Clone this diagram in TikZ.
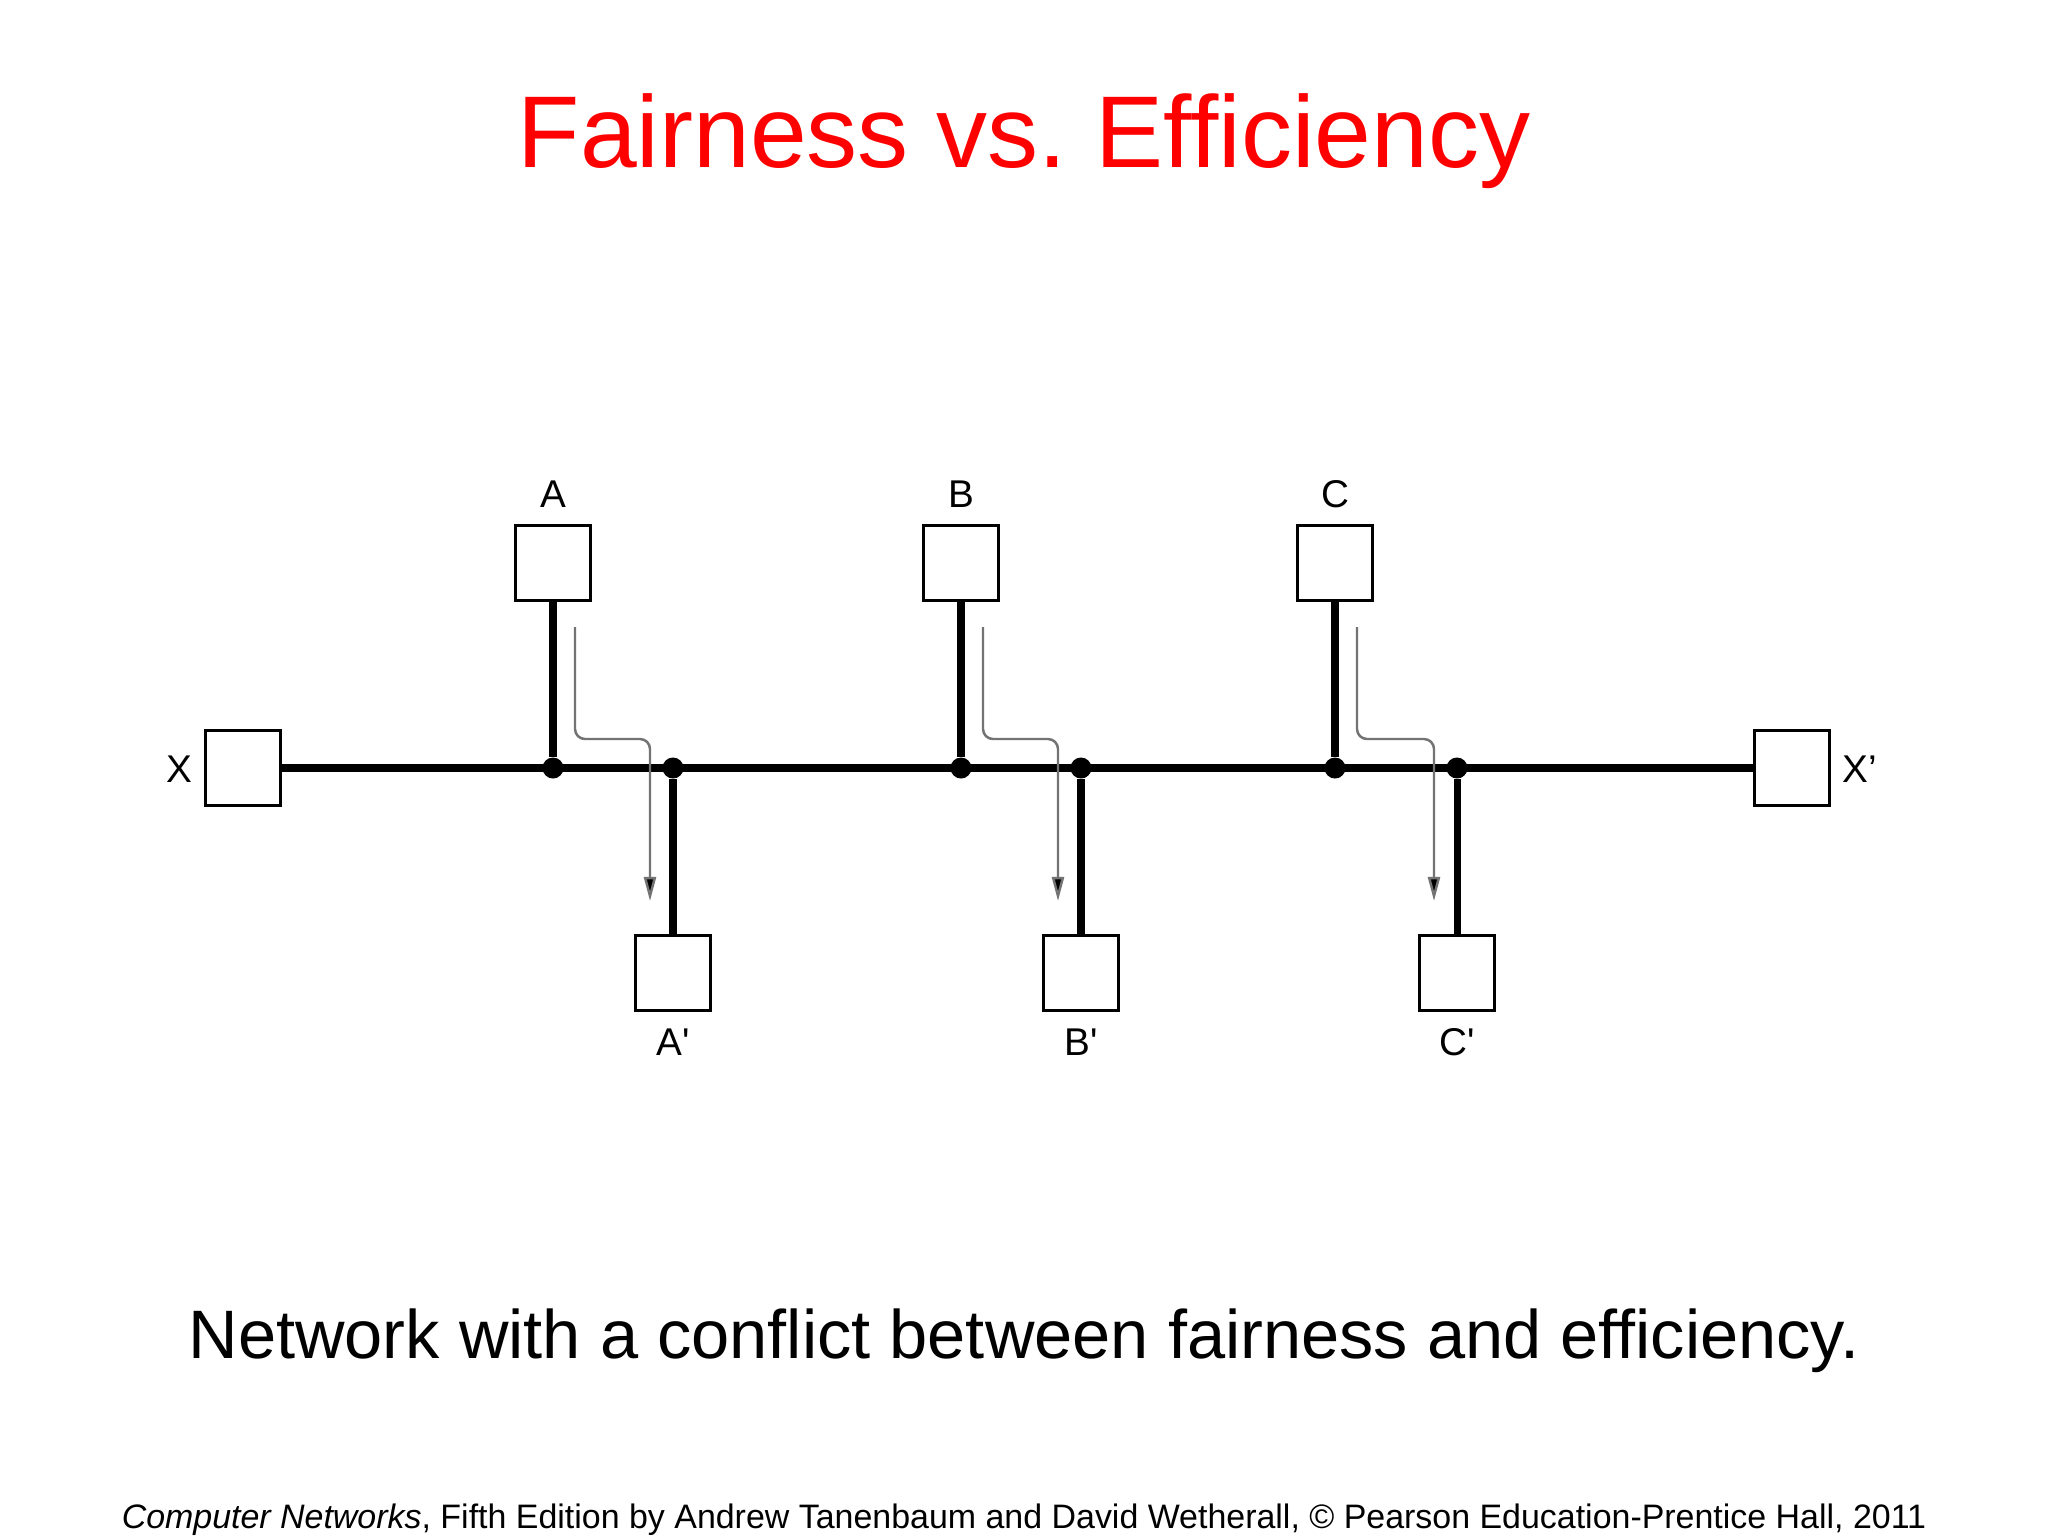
\documentclass[tikz,border=0pt]{standalone}
\usepackage{fontspec}
\setmainfont{Liberation Sans}
\usetikzlibrary{arrows.meta}

\begin{document}
\begin{tikzpicture}[
x=0.01cm, y=-0.01cm,
station/.style={
draw,
line width=0.6pt,
fill=white,
minimum size=0.75cm,
inner sep=0 pt,
},
stationlabel/.style={font=\fontsize{11}{13}\selectfont, inner sep=0 pt, anchor=base},
bus/.style={line width=2pt},
junction/.style={circle, fill=black, minimum size=0.21cm, inner sep=0 pt},
flow/.style={line width=0.7pt, draw=black!55, rounded corners=0.1cm,
-{Triangle[length=0.24cm, width=0.12cm, fill=black]}},
]
\useasboundingbox (0,0) rectangle (2048,1536);

% title
\node[text=red, font=\fontsize{29}{34}\selectfont, anchor=base] (title)
at (1024,167) {Fairness vs.\ Efficiency};

% end stations on the bus
\node[station] (x) at (243,768) {};
\node[station] (xp) at (1792,768) {};
\node[stationlabel] (xl) at (179,782) {X};
\node[stationlabel, anchor=base west] (xpl) at (1842,782) {X’};

\draw[bus] (x) -- (xp);

% senders, receivers and their flows
\foreach \n/\lbl/\sx/\rx in {a/A/553/673, b/B/961/1081, c/C/1335/1457}{
\node[station] (\n) at (\sx,563) {};
\node[station] (\n r) at (\rx,973) {};
\node[junction] (\n j) at (\sx,768) {};
\node[junction] (\n rj) at (\rx,768) {};
\node[stationlabel] (\n l) at (\sx,507) {\lbl};
\node[stationlabel] (\n rl) at (\rx,1055) {\lbl\textquotesingle};
\draw[line width=2.4pt] (\n) -- (\n j);
\draw[bus] (\n rj) -- (\n r);
% flow from sender to receiver
\coordinate (\n s) at (\sx+22,627);
\coordinate (\n e) at (\rx-23,901);
\draw[flow] (\n s) -- ++(0,112) -| (\n e);
}

% caption and footer
\node[font=\fontsize{19.5}{24}\selectfont, anchor=base] (caption)
at (1024,1358) {Network with a conflict between fairness and efficiency.};
\node[font=\fontsize{9.65}{11}\selectfont, anchor=base] (footer)
at (1024,1528) {\textit{Computer Networks}, Fifth Edition by Andrew Tanenbaum and David Wetherall, © Pearson Education-Prentice Hall, 2011};

\end{tikzpicture}
\end{document}
